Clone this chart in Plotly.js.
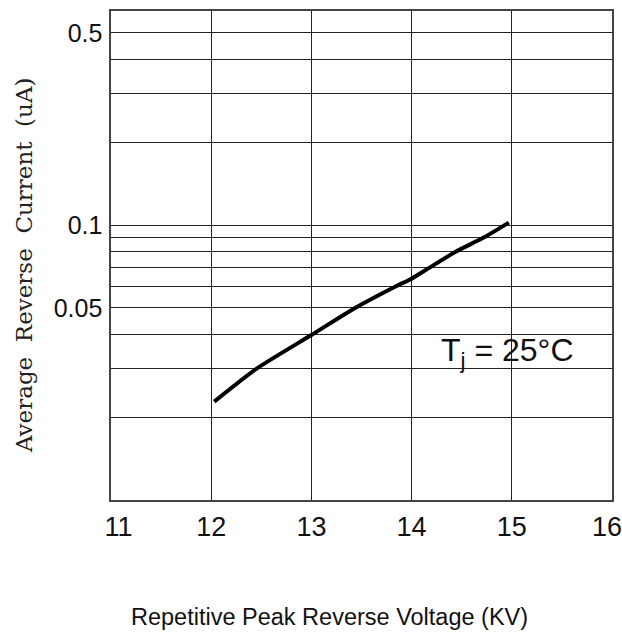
<!DOCTYPE html>
<html>
<head>
<meta charset="utf-8">
<script src="https://cdn.plot.ly/plotly-3.0.1.min.js"></script>
<style>html,body{margin:0;padding:0;background:#fff;}</style>
</head>
<body>
<div id="chart" style="width:622px;height:635px;"></div>
<script>
// Curve (Tj = 25°C)
const voltageKV = [12.03, 12.45, 13.0, 13.44, 13.85, 14.0, 14.18, 14.44, 14.72, 14.97];
const currentUA = [0.0228, 0.030, 0.0398, 0.050, 0.060, 0.0638, 0.070, 0.080, 0.090, 0.102];

// Axis ticks / grid
const xRange = [11, 16];
const xTickVals = [11, 12, 13, 14, 15];
const xTickText = ['\u00a0\u00a011', '12', '13', '14', '15'];
const xEndLabel = '16';           // tick at the right border, drawn inside the page
const yTickVals = [0.05, 0.1, 0.5];
const yTickText = ['0.05', '0.1', '0.5'];
const yMinorGridVals = [0.02, 0.03, 0.04, 0.06, 0.07, 0.08, 0.09, 0.2, 0.3, 0.4];

const xTitle = 'Repetitive Peak Reverse Voltage (KV)';
const yTitle = 'Average&nbsp;&nbsp;Reverse&nbsp;&nbsp;Current&nbsp;&nbsp;(uA)';
const tempLabel = 'T<sub>j</sub> = 25°C';

const trace = {
  x: voltageKV,
  y: currentUA,
  type: 'scatter',
  mode: 'lines',
  line: {color: '#000', width: 4, shape: 'spline', smoothing: 0.6},
  hoverinfo: 'skip',
  showlegend: false
};

const gridColor = '#222';
const tickFontX = {size: 27, color: '#111', family: 'Liberation Sans, Arial, sans-serif'};
const layout = {
  width: 622,
  height: 635,
  margin: {l: 111, r: 10, t: 11, b: 135, pad: 0},
  paper_bgcolor: '#fff',
  plot_bgcolor: '#fff',
  font: {family: 'Liberation Sans, Arial, sans-serif', color: '#111'},
  xaxis: {
    range: xRange,
    tickvals: xTickVals,
    ticktext: xTickText,
    showgrid: true, gridcolor: gridColor, gridwidth: 1,
    zeroline: false,
    showline: true, mirror: true, linecolor: '#444', linewidth: 1.6,
    ticks: '',
    ticklabelstandoff: 2,
    tickfont: tickFontX,
    fixedrange: true
  },
  yaxis: {
    type: 'log',
    range: [Math.log10(0.01), Math.log10(0.6)],
    tickvals: yTickVals,
    ticktext: yTickText,
    showgrid: true, gridcolor: gridColor, gridwidth: 1,
    minor: {tickvals: yMinorGridVals, showgrid: true, gridcolor: gridColor, gridwidth: 1, ticks: ''},
    zeroline: false,
    showline: true, mirror: true, linecolor: '#444', linewidth: 1.6,
    ticks: '',
    ticklabelstandoff: 2,
    tickfont: {size: 25, color: '#111'},
    fixedrange: true
  },
  annotations: [
    {
      text: xEndLabel, xref: 'x', yref: 'paper',
      x: xRange[1], xshift: -5, y: -0.0552, xanchor: 'center', yanchor: 'middle',
      showarrow: false, font: tickFontX
    },
    {
      text: xTitle, xref: 'paper', yref: 'paper',
      x: 0.437, y: -0.239, xanchor: 'center', yanchor: 'middle',
      showarrow: false, font: {size: 23.5, color: '#111', family: 'Liberation Sans, Arial, sans-serif'}
    },
    {
      text: yTitle, xref: 'paper', yref: 'paper', textangle: -90,
      x: -0.174, y: 0.48, xanchor: 'center', yanchor: 'middle',
      showarrow: false, font: {size: 23, color: '#222', family: 'DejaVu Serif, serif'}
    },
    {
      text: tempLabel, xref: 'x', yref: 'y',
      x: 14.96, y: Math.log10(0.0345), xanchor: 'center', yanchor: 'middle',
      showarrow: false, bgcolor: 'rgba(0,0,0,0)',
      font: {size: 32, color: '#111', family: 'Liberation Sans, Arial, sans-serif'}
    }
  ]
};

Plotly.newPlot('chart', [trace], layout, {displayModeBar: false, staticPlot: true});
</script>
</body>
</html>
